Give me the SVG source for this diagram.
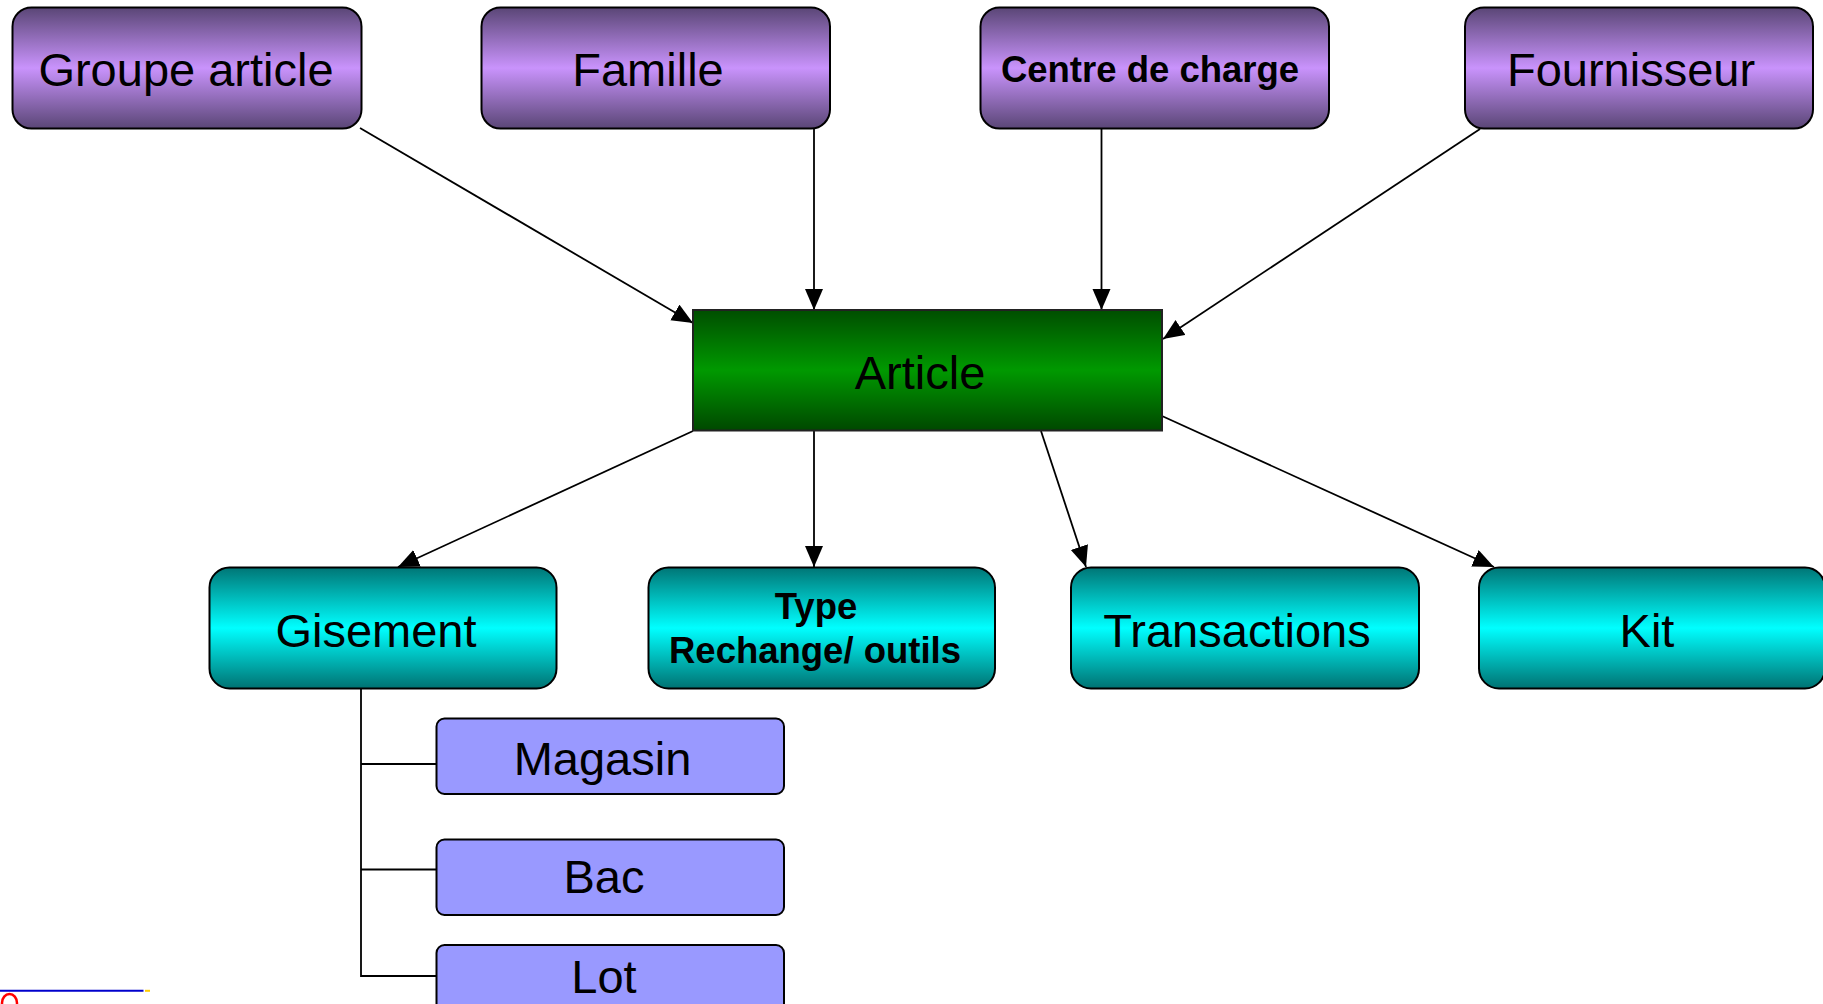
<svg xmlns="http://www.w3.org/2000/svg" width="1823" height="1004" viewBox="0 0 1823 1004">
  <defs>
    <linearGradient id="gPurple" x1="0" y1="0" x2="0" y2="1">
      <stop offset="0" stop-color="#5a4676"/>
      <stop offset="0.5" stop-color="#c993fc"/>
      <stop offset="1" stop-color="#5a4676"/>
    </linearGradient>
    <linearGradient id="gGreen" x1="0" y1="0" x2="0" y2="1">
      <stop offset="0" stop-color="#004e00"/>
      <stop offset="0.5" stop-color="#009900"/>
      <stop offset="1" stop-color="#004800"/>
    </linearGradient>
    <linearGradient id="gCyan" x1="0" y1="0" x2="0" y2="1">
      <stop offset="0" stop-color="#007676"/>
      <stop offset="0.5" stop-color="#00ffff"/>
      <stop offset="1" stop-color="#007272"/>
    </linearGradient>
    <marker id="arrow" markerUnits="userSpaceOnUse" markerWidth="24" markerHeight="20" refX="21" refY="9" orient="auto">
      <path d="M0,0 L21,9 L0,18 z" fill="#000"/>
    </marker>
  </defs>
  <style>
    .top { fill: url(#gPurple); stroke: #000; stroke-width: 2; }
    .mid { fill: url(#gCyan); stroke: #000; stroke-width: 2; }
    .main { fill: url(#gGreen); stroke: #222; stroke-width: 2; }
    .sub { fill: #9999ff; stroke: #000; stroke-width: 2; }
    .lbl { font-family: "Liberation Sans", Arial, sans-serif; font-size: 47px; fill: #000; text-anchor: middle; }
    .bold { font-family: "Liberation Sans", Arial, sans-serif; font-size: 36.5px; font-weight: bold; fill: #000; text-anchor: middle; }
    .link { stroke: #000; stroke-width: 1.8; fill: none; }
    .arr { marker-end: url(#arrow); }
  </style>

  <!-- connectors -->
  <g id="connectors">
    <line class="link arr" x1="360" y1="128" x2="693" y2="323"/>
    <line class="link arr" x1="814" y1="128" x2="814" y2="310"/>
    <line class="link arr" x1="1101.5" y1="128" x2="1101.5" y2="310"/>
    <line class="link arr" x1="1480" y1="129" x2="1163" y2="339"/>
    <line class="link arr" x1="693" y1="431" x2="398" y2="567"/>
    <line class="link arr" x1="814" y1="431" x2="814" y2="567"/>
    <line class="link arr" x1="1041" y1="431" x2="1086" y2="567"/>
    <line class="link arr" x1="1162" y1="416" x2="1494" y2="567"/>
    <polyline class="link" points="361,688 361,976 436,976"/>
    <line class="link" x1="361" y1="764" x2="436" y2="764"/>
    <line class="link" x1="361" y1="869.5" x2="436" y2="869.5"/>
  </g>

  <!-- top row -->
  <g id="groupe-article">
    <rect class="top" x="12.5" y="7.5" width="349" height="121" rx="19"/>
    <text class="lbl" x="186" y="86">Groupe article</text>
  </g>
  <g id="famille">
    <rect class="top" x="481.5" y="7.5" width="348.5" height="121" rx="19"/>
    <text class="lbl" x="648" y="86">Famille</text>
  </g>
  <g id="centre-de-charge">
    <rect class="top" x="980.5" y="7.5" width="348.5" height="121" rx="19"/>
    <text class="bold" x="1150" y="82">Centre de charge</text>
  </g>
  <g id="fournisseur">
    <rect class="top" x="1465" y="7.5" width="348" height="121" rx="19"/>
    <text class="lbl" x="1631" y="86">Fournisseur</text>
  </g>

  <!-- central entity -->
  <g id="article">
    <rect class="main" x="693" y="310" width="469" height="120.5"/>
    <text class="lbl" x="920" y="389">Article</text>
  </g>

  <!-- second row -->
  <g id="gisement">
    <rect class="mid" x="209.5" y="567.5" width="347" height="121" rx="20"/>
    <text class="lbl" x="376" y="647">Gisement</text>
  </g>
  <g id="type">
    <rect class="mid" x="648.5" y="567.5" width="346.5" height="121" rx="20"/>
    <text class="bold" x="816" y="619">Type</text>
    <text class="bold" x="815" y="663">Rechange/ outils</text>
  </g>
  <g id="transactions">
    <rect class="mid" x="1071" y="567.5" width="348" height="121" rx="20"/>
    <text class="lbl" x="1237" y="647">Transactions</text>
  </g>
  <g id="kit">
    <rect class="mid" x="1479" y="567.5" width="346" height="121" rx="20"/>
    <text class="lbl" x="1647" y="647">Kit</text>
  </g>

  <!-- storage levels -->
  <g id="magasin">
    <rect class="sub" x="436.5" y="718.5" width="347.5" height="75.5" rx="8"/>
    <text class="lbl" x="602.5" y="775">Magasin</text>
  </g>
  <g id="bac">
    <rect class="sub" x="436.5" y="839.5" width="347.5" height="75.5" rx="8"/>
    <text class="lbl" x="604" y="893">Bac</text>
  </g>
  <g id="lot">
    <rect class="sub" x="436.5" y="945" width="347.5" height="75.5" rx="8"/>
    <text class="lbl" x="604" y="993">Lot</text>
  </g>

  <!-- marks at the lower left -->
  <line x1="0" y1="990.8" x2="143.5" y2="990.8" stroke="#0000cc" stroke-width="2"/>
  <line x1="145" y1="990.8" x2="150" y2="990.8" stroke="#ffcc00" stroke-width="2"/>
  <ellipse cx="9.5" cy="1003" rx="7.5" ry="9" fill="none" stroke="#ff0000" stroke-width="2.5"/>
</svg>
